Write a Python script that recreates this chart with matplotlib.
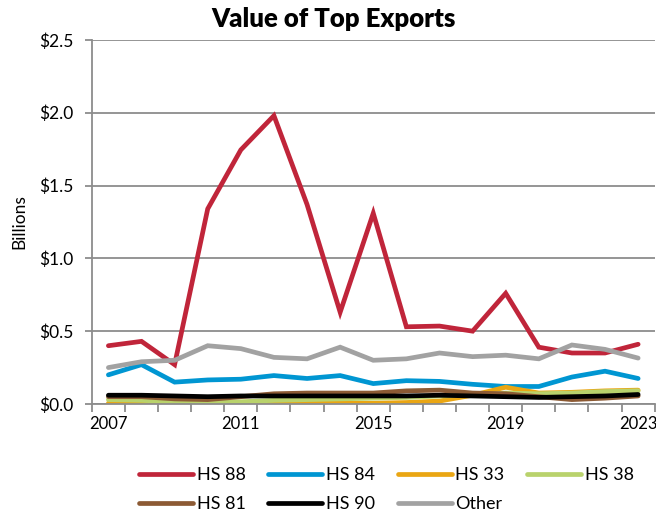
import matplotlib
matplotlib.use('Agg')
import matplotlib.pyplot as plt
import numpy as np

years = list(range(2007, 2024))

# export values, billions of dollars
hs88 = [0.40, 0.43, 0.27, 1.34, 1.745, 1.98, 1.37, 0.63, 1.31, 0.53, 0.535, 0.50, 0.76, 0.39, 0.35, 0.35, 0.41]
hs84 = [0.20, 0.27, 0.15, 0.165, 0.17, 0.195, 0.175, 0.195, 0.14, 0.16, 0.155, 0.135, 0.12, 0.12, 0.185, 0.225, 0.175]
hs33 = [0.005, 0.005, 0.005, 0.005, 0.005, 0.005, 0.005, 0.005, 0.005, 0.01, 0.02, 0.06, 0.115, 0.075, 0.08, 0.09, 0.095]
hs38 = [0.03, 0.025, 0.015, 0.01, 0.015, 0.025, 0.03, 0.035, 0.04, 0.045, 0.055, 0.06, 0.075, 0.07, 0.075, 0.085, 0.09]
hs81 = [0.05, 0.05, 0.035, 0.03, 0.05, 0.07, 0.075, 0.075, 0.075, 0.09, 0.095, 0.075, 0.07, 0.05, 0.03, 0.04, 0.055]
hs90 = [0.06, 0.06, 0.055, 0.05, 0.055, 0.055, 0.055, 0.055, 0.055, 0.055, 0.06, 0.055, 0.05, 0.045, 0.05, 0.055, 0.065]
other = [0.25, 0.29, 0.30, 0.40, 0.38, 0.32, 0.31, 0.39, 0.30, 0.31, 0.35, 0.325, 0.335, 0.31, 0.405, 0.375, 0.315]

names = ['HS 88', 'HS 84', 'HS 33', 'HS 38', 'HS 81', 'HS 90', 'Other']
series = [hs88, hs84, hs33, hs38, hs81, hs90, other]
colors = ['#c0253a', '#0096d2', '#eaa613', '#b9d26c', '#8c5a34', '#000000', '#a2a2a2']

plt.rcParams['font.family'] = ['Lato', 'DejaVu Sans']

fig = plt.figure(figsize=(6.56, 5.12), dpi=100)
ax = fig.add_axes([0.140, 0.211, 0.858, 0.711])

x = np.arange(len(years))
lines = []
for vals, name, c in zip(series, names, colors):
    ln, = ax.plot(x, vals, color=c, lw=3.4, label=name, solid_joinstyle='miter', solid_capstyle='round')
    lines.append(ln)

ax.set_xlim(-0.5, len(years) - 0.5)
ax.set_ylim(0, 2.5)
ax.set_yticks(np.arange(0, 2.51, 0.5))
ax.set_yticklabels(['$%.1f' % v for v in np.arange(0, 2.51, 0.5)], fontsize=12.5)
ax.yaxis.grid(True, color='#8c8c8c', lw=1.3)
ax.set_axisbelow(True)

# tick marks between categories, labels every 4 years
ax.set_xticks(np.arange(-0.5, len(years), 1.0))
ax.set_xticklabels([])
ax.set_xticks(x[::4], minor=True)
ax.set_xticklabels([str(y) for y in years[::4]], minor=True, fontsize=12)
ax.tick_params(axis='x', which='major', length=6, color='#8c8c8c', width=1.3)
ax.tick_params(axis='x', which='minor', length=0, pad=9)
ax.tick_params(axis='y', length=5, color='#8c8c8c', width=1.3, pad=8)

for s in ['top', 'right']:
    ax.spines[s].set_visible(False)
for s in ['left', 'bottom']:
    ax.spines[s].set_color('#8c8c8c')
    ax.spines[s].set_linewidth(1.3)

ax.set_ylabel('Billions', fontsize=12.5, labelpad=9)
fig.text(0.508, 0.962, 'Value of Top Exports', fontsize=18.5, fontweight='heavy',
         ha='center', va='center')

# legend filled column by column, so reorder to read across rows
order = [0, 4, 1, 5, 2, 6, 3]
fig.legend([lines[i] for i in order], [names[i] for i in order],
           loc='upper left', bbox_to_anchor=(0.212, 0.087), ncol=4, frameon=False,
           borderpad=0, borderaxespad=0,
           fontsize=13, handlelength=3.0, handletextpad=0.2, columnspacing=1.25,
           labelspacing=0.7)

plt.savefig('out.png', dpi=100)
